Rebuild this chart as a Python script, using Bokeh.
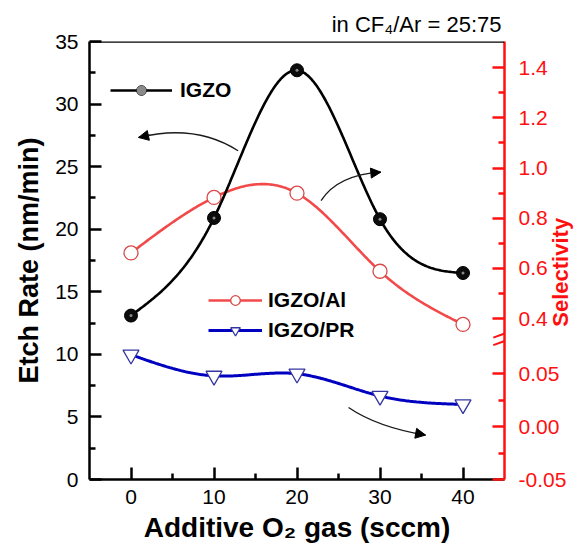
import numpy as np
from bokeh.plotting import figure
from bokeh.models import (Range1d, LinearAxis, FixedTicker, Legend, LegendItem,
                          Arrow, NormalHead, Span)
from bokeh.embed import file_html
from bokeh.resources import INLINE

# ---------------- data ----------------
o2_flow = [0, 10, 20, 30, 40]
igzo_etch = [13.1, 20.9, 32.7, 20.8, 16.5]          # nm/min (left axis)
sel_igzo_al = [0.662, 0.883, 0.900, 0.589, 0.377]   # selectivity (upper right segment)
sel_igzo_pr = [0.068, 0.048, 0.050, 0.029, 0.021]   # selectivity (lower right segment)

x_ticks = [0, 10, 20, 30, 40]
x_minor = [5, 15, 25, 35]
etch_ticks = [0, 5, 10, 15, 20, 25, 30, 35]
etch_minor = [2.5, 7.5, 12.5, 17.5, 22.5, 27.5, 32.5]
sel_hi_ticks = [0.4, 0.6, 0.8, 1.0, 1.2, 1.4]
sel_hi_labels = ["0.4", "0.6", "0.8", "1.0", "1.2", "1.4"]
sel_hi_minor = [0.5, 0.7, 0.9, 1.1, 1.3]
sel_lo_ticks = [-0.05, 0.0, 0.05]
sel_lo_labels = ["-0.05", "0.00", "0.05"]
sel_lo_minor = [-0.025, 0.025]

# broken right axis: mapping of selectivity onto the etch-rate scale
HI_E0, HI_S0, HI_SCALE = 12.85, 0.4, 20.06
LO_S0, LO_SCALE = -0.05, 84.5
BREAK_E = 11.36


def hi_to_e(s):
    return HI_E0 + HI_SCALE * (s - HI_S0)


def lo_to_e(s):
    return (s - LO_S0) * LO_SCALE


def smooth(x, y, n=240):
    x = np.asarray(x, float)
    y = np.asarray(y, float)
    m = len(x)
    h = np.diff(x)
    A = np.zeros((m, m))
    b = np.zeros(m)
    A[0, 0] = 1
    A[-1, -1] = 1
    for i in range(1, m - 1):
        A[i, i - 1] = h[i - 1]
        A[i, i] = 2 * (h[i - 1] + h[i])
        A[i, i + 1] = h[i]
        b[i] = 3 * ((y[i + 1] - y[i]) / h[i] - (y[i] - y[i - 1]) / h[i - 1])
    c = np.linalg.solve(A, b)
    xs = np.linspace(x[0], x[-1], n)
    idx = np.clip(np.searchsorted(x, xs, side="right") - 1, 0, m - 2)
    dx = xs - x[idx]
    bc = (y[1:] - y[:-1]) / h - h * (2 * c[:-1] + c[1:]) / 3
    d = (c[1:] - c[:-1]) / (3 * h)
    ys = y[idx] + bc[idx] * dx + c[idx] * dx ** 2 + d[idx] * dx ** 3
    return xs, ys


FONT = "Liberation Sans"
RED_AX = "#ff1010"

p = figure(width=588, height=548, output_backend="svg", toolbar_location=None,
           x_range=Range1d(-5, 45), y_range=Range1d(0, 35),
           min_border_left=89, min_border_right=82, min_border_top=41, min_border_bottom=69)
p.outline_line_color = None
p.xgrid.visible = False
p.ygrid.visible = False
p.background_fill_color = "white"
p.border_fill_color = "white"

# title
p.title.text = "in CF\u2084/Ar = 25:75"
p.title.align = "right"
p.title.text_font = FONT
p.title.text_font_style = "normal"
p.title.text_font_size = "22px"
p.title.text_color = "black"
p.title.standoff = 10
p.title.offset = 3

p.extra_y_ranges = {
    "sel_hi": Range1d(HI_S0 - HI_E0 / HI_SCALE, HI_S0 + (35 - HI_E0) / HI_SCALE),
    "sel_lo": Range1d(LO_S0, LO_S0 + 35 / LO_SCALE),
}

# ---- axes styling ----
for ax in (p.xaxis[0], p.yaxis[0]):
    ax.axis_line_width = 2.5
    ax.axis_line_color = "black"
    ax.major_tick_line_width = 2.5
    ax.minor_tick_line_width = 2.5
    ax.major_tick_in = 12
    ax.major_tick_out = 0
    ax.minor_tick_in = 6
    ax.minor_tick_out = 0
    ax.major_label_text_font = FONT
    ax.major_label_text_font_size = "21px"
    ax.major_label_text_color = "black"
    ax.axis_label_text_font = FONT
    ax.axis_label_text_font_style = "bold"
    ax.axis_label_text_color = "black"

p.xaxis[0].ticker = FixedTicker(ticks=x_ticks, minor_ticks=x_minor)
p.xaxis[0].major_label_standoff = 10
p.xaxis[0].axis_label = "Additive O\u2082 gas (sccm)"
p.xaxis[0].axis_label_text_font_size = "28px"
p.xaxis[0].axis_label_standoff = 5

p.yaxis[0].ticker = FixedTicker(ticks=etch_ticks, minor_ticks=etch_minor)
p.yaxis[0].major_label_standoff = 11
p.yaxis[0].axis_label = "Etch Rate (nm/min)"
p.yaxis[0].axis_label_text_font_size = "27px"
p.yaxis[0].axis_label_standoff = 8

# right broken axis
r_ticks = [round(hi_to_e(t), 6) for t in sel_hi_ticks] + [round(lo_to_e(t), 6) for t in sel_lo_ticks]
r_labels = sel_hi_labels + sel_lo_labels
r_minor = [round(hi_to_e(t), 6) for t in sel_hi_minor] + [round(lo_to_e(t), 6) for t in sel_lo_minor]
raxis = LinearAxis(ticker=FixedTicker(ticks=r_ticks, minor_ticks=r_minor),
                   major_label_overrides={t: l for t, l in zip(r_ticks, r_labels)})
raxis.axis_line_width = 2.5
raxis.axis_line_color = RED_AX
raxis.major_tick_line_color = RED_AX
raxis.minor_tick_line_color = RED_AX
raxis.major_tick_line_width = 2.5
raxis.minor_tick_line_width = 2.5
raxis.major_tick_in = 12
raxis.major_tick_out = 0
raxis.minor_tick_in = 6
raxis.minor_tick_out = 0
raxis.major_label_text_font = FONT
raxis.major_label_text_font_size = "21px"
raxis.major_label_text_color = RED_AX
raxis.major_label_standoff = 14
# label anchored at the bottom of the axis, pushed up by non-breaking spaces
raxis.axis_label = "\u00a0" * 25 + "Selectivity"
raxis.axis_label_text_font = FONT
raxis.axis_label_text_font_style = "bold"
raxis.axis_label_text_font_size = "22px"
raxis.axis_label_text_color = RED_AX
raxis.axis_label_orientation = np.pi / 2
raxis.axis_label_align = "start"
raxis.axis_label_standoff = -9
p.add_layout(raxis, "right")

# top frame edge
p.add_layout(Span(location=35, dimension="width", line_color="black", line_width=2.5))

# ---- series ----
xs, ys = smooth(o2_flow, sel_igzo_al)
al_line = p.line(xs, ys, y_range_name="sel_hi", line_color="#f24a4a", line_width=2.6)
al_pts = p.scatter(o2_flow, sel_igzo_al, y_range_name="sel_hi", marker="circle", size=14,
                   fill_color="white", line_color="#d84848", line_width=1.3)

xs, ys = smooth(o2_flow, igzo_etch)
ig_line = p.line(xs, ys, line_color="black", line_width=2.6)
ig_pts = p.scatter(o2_flow, igzo_etch, marker="circle", size=13, fill_color="#0c0c0c",
                   line_color="black", line_width=1)
ig_hl = p.scatter(o2_flow, igzo_etch, marker="circle", size=3, fill_color="#8a8a8a",
                  line_color=None)

xs, ys = smooth(o2_flow, sel_igzo_pr)
pr_line = p.line(xs, ys, y_range_name="sel_lo", line_color="#0000c0", line_width=3)
pr_pts = p.scatter(o2_flow, sel_igzo_pr, y_range_name="sel_lo", marker="inverted_triangle",
                   size=16, fill_color="white", line_color="#3636a0", line_width=1.3)

# ---- legends ----
leg_style = dict(label_text_font=FONT, label_text_font_style="bold", label_text_font_size="21px",
                 label_text_color="black", glyph_height=24, label_height=24, padding=0, margin=0,
                 spacing=6, border_line_color=None, background_fill_alpha=0)
leg1 = Legend(items=[LegendItem(label="IGZO", renderers=[ig_line, ig_pts, ig_hl])],
              location=(21, 377), glyph_width=62, label_standoff=8, **leg_style)
leg2 = Legend(items=[LegendItem(label="IGZO/Al", renderers=[al_line, al_pts]),
                     LegendItem(label="IGZO/PR", renderers=[pr_line, pr_pts])],
              location=(119, 137), glyph_width=54, label_standoff=6, **leg_style)
p.add_layout(leg1)
p.add_layout(leg2)

# ---- curved arrows (annotation) ----
arrows = [  # (x0, y0, cx, cy, x1, y1) in data units
    (12.90, 26.27, 7.79, 28.45, 0.91, 27.33),
    (22.90, 22.28, 24.89, 24.34, 30.10, 24.56),
    (26.21, 5.76, 29.65, 4.20, 35.49, 3.55),
]
p.quadratic(x0=[a[0] for a in arrows], y0=[a[1] for a in arrows],
            x1=[a[4] for a in arrows], y1=[a[5] for a in arrows],
            cx=[a[2] for a in arrows], cy=[a[3] for a in arrows],
            line_color="#1a1a1a", line_width=1.3)
for a in arrows:
    t = 0.9
    bx = (1 - t) ** 2 * a[0] + 2 * t * (1 - t) * a[2] + t ** 2 * a[4]
    by = (1 - t) ** 2 * a[1] + 2 * t * (1 - t) * a[3] + t ** 2 * a[5]
    p.add_layout(Arrow(end=NormalHead(size=10, fill_color="black", line_color="black"),
                       x_start=bx, y_start=by, x_end=a[4], y_end=a[5],
                       line_color="#1a1a1a", line_width=1.3))

# axis break marks
for dy in (-0.3, 0.3):
    p.add_layout(Arrow(end=None, x_start=45 - 1.35, y_start=BREAK_E + dy - 0.32,
                       x_end=45 + 1.35, y_end=BREAK_E + dy + 0.32,
                       line_color=RED_AX, line_width=2))

open("out.html", "w").write(file_html(p, INLINE))
